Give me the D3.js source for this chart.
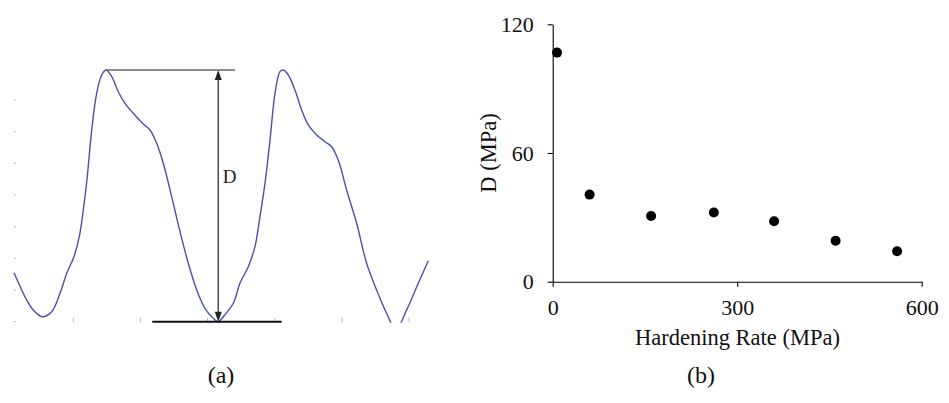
<!DOCTYPE html>
<html>
<head>
<meta charset="utf-8">
<script src="https://cdn.jsdelivr.net/npm/d3@7"></script>
<style>
  html, body { margin: 0; padding: 0; background: #fff; }
  svg { display: block; }
  text { font-family: "Liberation Serif", "DejaVu Serif", serif; }
</style>
</head>
<body>
<svg id="chart" width="949" height="403"></svg>
<script>
// ---------- Panel (a): schematic stress profile ----------
const profileX = [0.117,0.306,0.404,0.538,0.678,0.802,0.902,1.010,1.089,1.149,1.208,1.274,1.348,1.423,1.487,1.572,1.670,1.770,1.894,2.042,2.142,2.242,2.340,2.465,2.589,2.713,2.838,2.961,3.085,3.159,3.234,3.383,3.482,3.606,3.706,3.780,3.855,3.930,4.004,4.078,4.127,4.202,4.301,4.401,4.500,4.625,4.748,4.848,4.946,5.071,5.220,5.369,5.518,5.667,5.806,5.960,6.138,6.287];
const profileY = [1.547,0.685,0.369,0.158,0.316,0.897,1.528,2.052,2.684,3.527,4.578,6.053,7.212,7.790,7.948,7.736,7.262,6.896,6.580,6.243,6.053,5.633,5.002,3.947,2.842,1.844,1.001,0.423,0.107,0.000,0.158,0.581,1.212,1.737,2.368,3.315,4.370,5.737,7.212,7.894,7.948,7.790,7.316,6.685,6.211,5.895,5.684,5.526,5.106,4.159,3.107,1.844,1.001,0.265,-0.25,0.35,1.212,1.926];
const aXTicks = [1, 2, 3, 4, 5, 6];
const aYTicks = [0, 1, 2, 3, 4, 5, 6, 7];
const peakX = 1.487, peakLineEnd = 3.41, peakLevel = 7.948;
const valleyX = 3.159, valleyLineStart = 2.176, valleyLineEnd = 4.104, valleyLevel = 0;
const dimLabel = "D";
const panelALabel = "(a)";

// ---------- Panel (b): D vs hardening rate ----------
const hardeningRate = [7, 60, 160, 262, 360, 460, 560];
const dValues = [106.8, 40.6, 30.6, 32.3, 28.2, 19.1, 14.2];
const bXTicks = [0, 300, 600];
const bYTicks = [0, 60, 120];
const bXTitle = "Hardening Rate (MPa)";
const bYTitle = "D (MPa)";
const panelBLabel = "(b)";

const svg = d3.select("#chart");

// ===== Panel (a) =====
const xA = d3.scaleLinear().domain([1, 6]).range([73.3, 409]);
const yA = d3.scaleLinear().domain([0, 7]).range([321.7, 100]);
const gA = svg.append("g");

gA.selectAll("line.ly").data(aYTicks).enter().append("line")
  .attr("x1", 14).attr("x2", 16)
  .attr("y1", d => yA(d)).attr("y2", d => yA(d))
  .attr("stroke", "#c4c4c4").attr("stroke-width", 1.2);
gA.selectAll("line.bx").data(aXTicks).enter().append("line")
  .attr("x1", d => xA(d)).attr("x2", d => xA(d))
  .attr("y1", yA(0) - 4).attr("y2", yA(0) + 0.5)
  .attr("stroke", "#c4c4c4").attr("stroke-width", 1.2);

svg.append("defs").append("clipPath").attr("id", "clipA")
  .append("rect").attr("x", 0).attr("y", 0).attr("width", 460).attr("height", yA(0) + 1);

const profile = profileX.map((x, i) => [x, profileY[i]]);
gA.append("path")
  .attr("clip-path", "url(#clipA)")
  .attr("d", d3.line().x(d => xA(d[0])).y(d => yA(d[1])).curve(d3.curveCatmullRom.alpha(0.5))(profile))
  .attr("fill", "none").attr("stroke", "#4a52ab").attr("stroke-width", 1.4);

gA.append("line")
  .attr("x1", xA(peakX)).attr("x2", xA(peakLineEnd))
  .attr("y1", yA(peakLevel)).attr("y2", yA(peakLevel))
  .attr("stroke", "#666").attr("stroke-width", 1.4);
gA.append("line")
  .attr("x1", xA(valleyLineStart)).attr("x2", xA(valleyLineEnd))
  .attr("y1", yA(valleyLevel)).attr("y2", yA(valleyLevel))
  .attr("stroke", "#111").attr("stroke-width", 2);

const ax = xA(valleyX), yTop = yA(peakLevel), yBot = yA(valleyLevel);
gA.append("line")
  .attr("x1", ax).attr("x2", ax).attr("y1", yTop + 6).attr("y2", yBot - 6)
  .attr("stroke", "#333").attr("stroke-width", 1.3);
gA.append("path")
  .attr("d", `M${ax},${yTop} L${ax - 3.5},${yTop + 10} L${ax + 3.5},${yTop + 10} Z`)
  .attr("fill", "#222");
gA.append("path")
  .attr("d", `M${ax},${yBot} L${ax - 3.5},${yBot - 10} L${ax + 3.5},${yBot - 10} Z`)
  .attr("fill", "#222");
gA.append("text")
  .attr("x", ax + 4.5).attr("y", 183.3)
  .attr("font-size", 19).attr("fill", "#222").text(dimLabel);

svg.append("text").attr("x", 221).attr("y", 382.5)
  .attr("text-anchor", "middle").attr("font-size", 24).attr("fill", "#111").text(panelALabel);

// ===== Panel (b) =====
const xB = d3.scaleLinear().domain([0, 600]).range([552.7, 921.7]);
const yB = d3.scaleLinear().domain([0, 120]).range([281.7, 24.3]);
const gB = svg.append("g");

const xAxis = gB.append("g").attr("transform", `translate(0,${yB(0)})`)
  .call(d3.axisBottom(xB).tickValues(bXTicks).tickSize(5).tickSizeOuter(0).tickPadding(13).tickFormat(d3.format("d")));
const yAxis = gB.append("g").attr("transform", `translate(${xB(0)},0)`)
  .call(d3.axisLeft(yB).tickValues(bYTicks).tickSize(5).tickSizeOuter(0).tickPadding(14).tickFormat(d3.format("d")));
[xAxis, yAxis].forEach(a => {
  a.selectAll("path.domain").attr("stroke", "#000").attr("stroke-width", 1.1);
  a.selectAll(".tick line").attr("stroke", "#000").attr("stroke-width", 1.1);
  a.selectAll(".tick text").attr("font-family", "Liberation Serif, serif").attr("font-size", 22).attr("fill", "#111");
});

gB.selectAll("circle").data(hardeningRate).enter().append("circle")
  .attr("cx", d => xB(d)).attr("cy", (d, i) => yB(dValues[i]))
  .attr("r", 5).attr("fill", "#000");

gB.append("text").attr("x", 737.5).attr("y", 345)
  .attr("text-anchor", "middle").attr("font-size", 22.5).attr("fill", "#111").text(bXTitle);
gB.append("text").attr("transform", `translate(496,153) rotate(-90)`)
  .attr("text-anchor", "middle").attr("font-size", 22.5).attr("fill", "#111").text(bYTitle);

svg.append("text").attr("x", 701).attr("y", 382.5)
  .attr("text-anchor", "middle").attr("font-size", 24).attr("fill", "#111").text(panelBLabel);
</script>
</body>
</html>
